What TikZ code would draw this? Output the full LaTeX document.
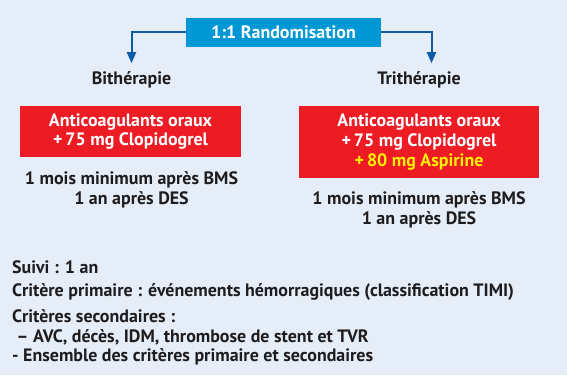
\documentclass[tikz,border=0pt]{standalone}
\usepackage{fontspec}
\setmainfont{PT Sans}
\usepackage{xcolor}
\usepackage{tikz}
\usetikzlibrary{arrows.meta, positioning}
\definecolor{fondbleu}{RGB}{228, 237, 248}
\definecolor{randobleu}{RGB}{0, 152, 212}
\definecolor{flechebleu}{RGB}{11, 91, 168}
\definecolor{rougebox}{RGB}{237, 28, 36}
\definecolor{jauneasp}{RGB}{255, 242, 0}
\definecolor{texte}{RGB}{30, 28, 30}
\tikzset{
  brasbox/.style={rectangle, fill=rougebox, draw=none, align=center, text=white,
    font=\fontsize{18}{20}\selectfont\bfseries, minimum width=221bp},
  bras/.style={font=\fontsize{18}{20}\selectfont\bfseries, text=texte, align=center},
  critere/.style={anchor=west, font=\fontsize{18}{20}\selectfont\bfseries, text=texte, align=left, inner sep=0pt},
  fleche/.style={draw=flechebleu, line width=2bp, -{Triangle[width=9bp,length=11bp]}, shorten >=5bp}
}

\begin{document}
\begin{tikzpicture}[x=1bp, y=-1bp]
  \fill[fondbleu] (0,0) rectangle (567,375);
  \useasboundingbox (0,0) rectangle (567,375);

  \node[rectangle, fill=randobleu, text=white, font=\fontsize{18}{20}\selectfont\bfseries, minimum width=195bp, minimum height=29bp] (rando) at (283.5,32.3) {1:1 Randomisation};

  \node[bras] (bith) at (131.5,80) {Bithérapie};
  \node[bras] (trith) at (419,80) {Trithérapie};

  \node[brasbox, minimum height=51bp] (bithbox) at (130.5,131.5) {Anticoagulants oraux\\+\,75 mg Clopidogrel};
  \node[brasbox, minimum width=240bp, minimum height=72bp] (trithbox) at (419,142) {Anticoagulants oraux\\+\,75 mg Clopidogrel\\\textcolor{jauneasp}{+\,80 mg Aspirine}};

  \node[bras] (bithdur) at (131.5,190) {1 mois minimum après BMS\\1 an après DES};
  \node[bras] (trithdur) at (419,210) {1 mois minimum après BMS\\1 an après DES};

  \node[critere] (suivi) at (12,267) {Suivi : 1 an};
  \node[critere] (primaire) at (12,292) {Critère primaire : événements hémorragiques (classification TIMI)};
  \node[critere, anchor=north west] (secondaires) at (12,309) {Critères secondaires :\\ \ – AVC, décès, IDM, thrombose de stent et TVR\\- Ensemble des critères primaire et secondaires};

  \draw[fleche] (rando.west) -| (bith.north);
  \draw[fleche] (rando.east) -| ([xshift=12.5bp]trith.north);
\end{tikzpicture}
\end{document}
